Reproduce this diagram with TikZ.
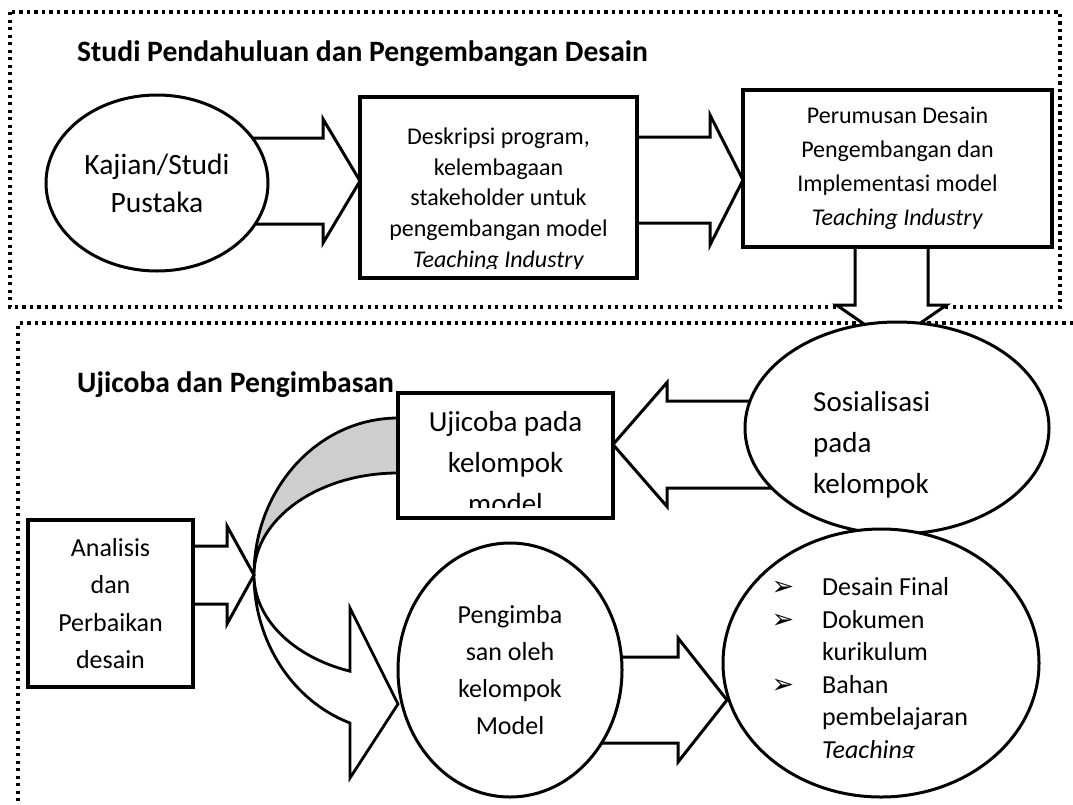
\documentclass[tikz,border=0pt]{standalone}
\usepackage{fontspec}
\setmainfont{Carlito}
\newfontfamily\symfont{DejaVu Sans}
\usetikzlibrary{shapes.geometric}
\definecolor{bandgray}{RGB}{206,206,206}
% arrowhead bullet for the list items
\newcommand\bul{\llap{{\symfont\fontsize{27}{27}\selectfont ➢}\hspace{28pt}}}
\begin{document}
\begin{tikzpicture}[x=1pt,y=-1pt,
  frame/.style={line width=3.3pt, dash pattern=on 3.3pt off 4.2pt},
  boxnode/.style={draw, line width=3.4pt, fill=white, rectangle, inner sep=0pt, align=center},
  ovalnode/.style={draw, line width=3pt, fill=white, ellipse, inner sep=0pt, align=center},
  arrowbody/.style={draw, line width=3pt, fill=white, line join=miter},
  heading/.style={font=\fontsize{29.6}{35}\selectfont\bfseries, anchor=base west, inner sep=0pt},
  pics/barrow/.style n args={4}{code={
    \path[arrowbody] (0,-#2) -- (#1-#4,-#2) -- (#1-#4,-#3) -- (#1,0)
      -- (#1-#4,#3) -- (#1-#4,#2) -- (0,#2) -- cycle;}},
]
\useasboundingbox (0,0) rectangle (1073,804);

% dotted frames of the two phases
\draw[frame] (10,12) rectangle (1060,307);
\draw[frame] (1073,323) -- (18,323) -- (18,804);

% block arrows between the steps
\pic at (200,181) {barrow={160}{43}{62}{37}};
\pic at (600,180) {barrow={143}{43}{65}{33}};
\pic[rotate=-90] at (891.5,235) {barrow={108}{36.5}{55}{38}};
\pic[rotate=180] at (800,444.5) {barrow={187}{43.5}{62}{54}};
\pic at (580,700) {barrow={147}{43}{62}{49}};

% curved arrow: shaded back band and white front band with head
\path[draw, line width=2.8pt, fill=bandgray] (398,418)
  arc[start angle=270, end angle=180, x radius=144, y radius=157]
  arc[start angle=180, end angle=270, x radius=144, y radius=102] -- cycle;
\path[draw, line width=2.8pt, fill=white] (254,575)
  arc[start angle=180, end angle=109.47, x radius=144, y radius=157]
  -- (350,778) -- (398,704) -- (350,608) -- (350,671.2)
  arc[start angle=109.47, end angle=180, x radius=144, y radius=102] -- cycle;
\pic at (170,575) {barrow={84}{29}{49}{27}};

% phase 1
\node[ovalnode, minimum width=222pt, minimum height=176pt, font=\fontsize{29.5}{38}\selectfont]
  (kajian) at (157,183) {Kajian/Studi\\Pustaka};
\node[boxnode, minimum width=277pt, minimum height=181pt] (desk) at (498.5,187.5) {};
\begin{scope}
  \clip (364,101) rectangle (633,268);
  \node[anchor=north, inner sep=0pt, align=center, font=\fontsize{24}{30.8}\selectfont]
    (deskText) at (498.5,122.6) {\strut Deskripsi program,\\kelembagaan\\stakeholder untuk\\pengembangan model\\\textit{Teaching Industry}};
\end{scope}
\node[boxnode, minimum width=309pt, minimum height=157pt, font=\fontsize{24}{34}\selectfont]
  (perum) at (897.5,168.5) {Perumusan Desain\\Pengembangan dan\\Implementasi model\\\textit{Teaching Industry}};

% phase 2
\node[ovalnode, minimum width=304pt, minimum height=212pt] (sos) at (897,428) {};
\node[anchor=north west, inner sep=0pt, align=left, font=\fontsize{29}{41}\selectfont]
  (sosText) at (813,383) {\strut Sosialisasi\\pada\\kelompok};
\node[boxnode, minimum width=215pt, minimum height=125pt] (uji) at (505.5,455.5) {};
\begin{scope}
  \clip (400,395) rectangle (611,507);
  \node[anchor=north, inner sep=0pt, align=center, font=\fontsize{29}{41}\selectfont]
    (ujiText) at (505.5,403) {\strut Ujicoba pada\\kelompok\\model};
\end{scope}
\node[boxnode, minimum width=165pt, minimum height=167pt, font=\fontsize{26}{37.5}\selectfont]
  (anal) at (110.5,603.5) {Analisis\\dan\\Perbaikan\\desain};
\node[ovalnode, minimum width=224pt, minimum height=254pt, font=\fontsize{26}{37}\selectfont]
  (imbas) at (510,670) {Pengimba\\san oleh\\kelompok\\Model};
\node[ovalnode, minimum width=316pt, minimum height=268pt] (final) at (881,663) {};
\begin{scope}
  \clip (735,540) rectangle (1030,757);
  \node[anchor=north west, inner sep=0pt, align=left, font=\fontsize{26}{32.5}\selectfont]
    (finalText) at (822,573) {\strut\bul Desain Final\\\bul Dokumen\\kurikulum\\\bul Bahan\\pembelajaran\\\textit{Teaching}};
\end{scope}

% phase headings
\node[heading] (title1) at (77,61) {Studi Pendahuluan dan Pengembangan Desain};
\node[heading] (title2) at (77,392) {Ujicoba dan Pengimbasan};
\end{tikzpicture}
\end{document}
